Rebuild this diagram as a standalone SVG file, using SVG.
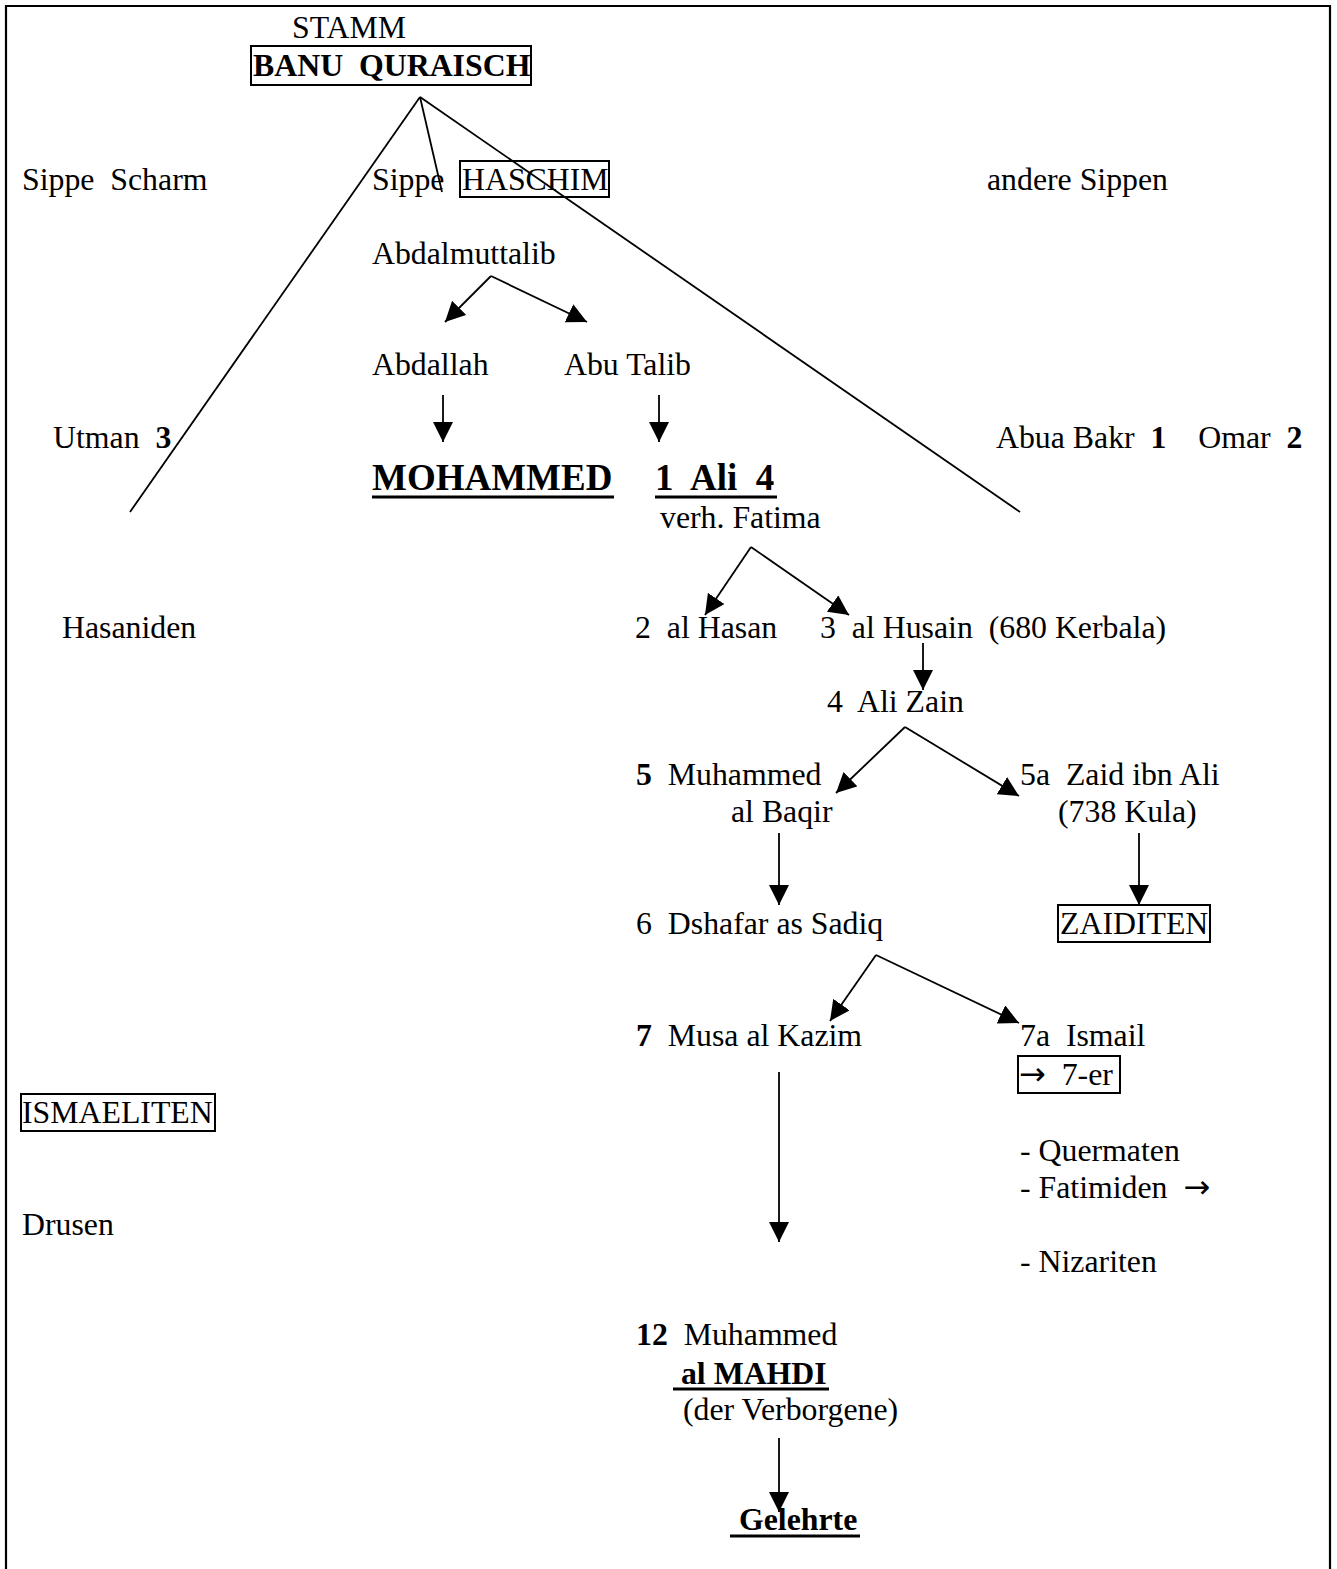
<svg xmlns="http://www.w3.org/2000/svg" width="1337" height="1569" viewBox="0 0 1337 1569">
<style>
text{font-family:"Liberation Serif","Times New Roman",serif;font-size:31.8px;fill:#000;white-space:pre}
.b{font-weight:bold}
.big{font-size:37px;font-weight:bold}
.box{fill:none;stroke:#000;stroke-width:2}
.ul{stroke:#000;stroke-width:3}
.c{stroke:#000;stroke-width:1.8;fill:none}
.arr{font-family:"DejaVu Sans",sans-serif;font-size:32px}
</style>
<defs>
<marker id="ah" viewBox="0 0 20 20" refX="20" refY="10" markerWidth="20" markerHeight="20" markerUnits="userSpaceOnUse" orient="auto">
<path d="M0,0 L20,10 L0,20 z" fill="#000"/>
</marker>
</defs>
<rect width="1337" height="1569" fill="#fff"/>
<path d="M6,1569 V6 H1330 V1569" fill="none" stroke="#000" stroke-width="2.2"/>

<g id="connectors">
<line class="c" x1="420" y1="97" x2="130" y2="512"/>
<line class="c" x1="420" y1="97" x2="442" y2="192"/>
<line class="c" x1="420" y1="97" x2="1020" y2="512"/>
<line class="c" x1="491" y1="276" x2="445" y2="322" marker-end="url(#ah)"/>
<line class="c" x1="491" y1="276" x2="587" y2="322" marker-end="url(#ah)"/>
<line class="c" x1="443" y1="395" x2="443" y2="442" marker-end="url(#ah)"/>
<line class="c" x1="659" y1="395" x2="659" y2="442" marker-end="url(#ah)"/>
<line class="c" x1="751" y1="547" x2="705" y2="615" marker-end="url(#ah)"/>
<line class="c" x1="751" y1="547" x2="849" y2="615" marker-end="url(#ah)"/>
<line class="c" x1="923" y1="643" x2="923" y2="690" marker-end="url(#ah)"/>
<line class="c" x1="905" y1="727" x2="836" y2="793" marker-end="url(#ah)"/>
<line class="c" x1="905" y1="727" x2="1019" y2="796" marker-end="url(#ah)"/>
<line class="c" x1="779" y1="833" x2="779" y2="905" marker-end="url(#ah)"/>
<line class="c" x1="1139" y1="833" x2="1139" y2="905" marker-end="url(#ah)"/>
<line class="c" x1="876" y1="955" x2="830" y2="1021" marker-end="url(#ah)"/>
<line class="c" x1="876" y1="955" x2="1019" y2="1023" marker-end="url(#ah)"/>
<line class="c" x1="779" y1="1072" x2="779" y2="1242" marker-end="url(#ah)"/>
<line class="c" x1="779" y1="1438" x2="779" y2="1512" marker-end="url(#ah)"/>
</g>

<g id="stamm"><text x="292" y="38">STAMM</text></g>
<g id="banu-quraisch"><rect class="box" x="251" y="46" width="280" height="39"/><text class="b" x="253" y="76">BANU  QURAISCH</text></g>
<g id="sippe-scharm"><text x="22" y="190">Sippe  Scharm</text></g>
<g id="sippe-haschim"><text x="372" y="190">Sippe</text><rect class="box" x="460" y="161" width="149" height="36"/><text x="462" y="190">HASCHIM</text></g>
<g id="andere-sippen"><text x="987" y="190">andere Sippen</text></g>
<g id="abdalmuttalib"><text x="372" y="264">Abdalmuttalib</text></g>
<g id="abdallah"><text x="372" y="375">Abdallah</text></g>
<g id="abu-talib"><text x="564" y="375">Abu Talib</text></g>
<g id="utman"><text x="53" y="448">Utman  <tspan class="b">3</tspan></text></g>
<g id="abu-bakr-omar"><text x="996" y="448">Abua Bakr  <tspan class="b">1</tspan>    Omar  <tspan class="b">2</tspan></text></g>
<g id="mohammed"><text class="big" x="372" y="490">MOHAMMED</text><line class="ul" x1="372" y1="497" x2="614" y2="497"/></g>
<g id="ali"><text class="big" x="655" y="490">1  Ali  4</text><line class="ul" x1="655" y1="497" x2="777" y2="497"/><text x="660" y="528">verh. Fatima</text></g>
<g id="hasaniden"><text x="62" y="638">Hasaniden</text></g>
<g id="al-hasan"><text x="635" y="638">2  al Hasan</text></g>
<g id="al-husain"><text x="820" y="638">3  al Husain  (680 Kerbala)</text></g>
<g id="ali-zain"><text x="827" y="712">4  Ali Zain</text></g>
<g id="muhammed-al-baqir"><text x="636" y="785"><tspan class="b">5</tspan>  Muhammed</text><text x="731" y="822">al Baqir</text></g>
<g id="zaid-ibn-ali"><text x="1020" y="785">5a  Zaid ibn Ali</text><text x="1058" y="822">(738 Kula)</text></g>
<g id="dshafar"><text x="636" y="934">6  Dshafar as Sadiq</text></g>
<g id="zaiditen"><rect class="box" x="1058" y="905" width="152" height="37"/><text x="1060" y="934">ZAIDITEN</text></g>
<g id="musa"><text x="636" y="1046"><tspan class="b">7</tspan>  Musa al Kazim</text></g>
<g id="ismail"><text x="1020" y="1046">7a  Ismail</text><rect class="box" x="1018" y="1056" width="102" height="37"/><text x="1019" y="1085"><tspan class="arr">→</tspan>  7-er</text></g>
<g id="ismaeliten"><rect class="box" x="21" y="1094" width="194" height="37"/><text x="22" y="1123">ISMAELITEN</text></g>
<g id="sects"><text x="1020" y="1161">- Quermaten</text><text x="1020" y="1198">- Fatimiden  <tspan class="arr">→</tspan></text><text x="1020" y="1272">- Nizariten</text></g>
<g id="drusen"><text x="22" y="1235">Drusen</text></g>
<g id="mahdi"><text x="636" y="1345"><tspan class="b">12</tspan>  Muhammed</text><text class="b" x="673" y="1384"> al MAHDI</text><line class="ul" x1="673" y1="1389" x2="829" y2="1389"/><text x="683" y="1420">(der Verborgene)</text></g>
<g id="gelehrte"><text class="b" x="731" y="1530"> Gelehrte</text><line class="ul" x1="730" y1="1536" x2="860" y2="1536"/></g>
</svg>
